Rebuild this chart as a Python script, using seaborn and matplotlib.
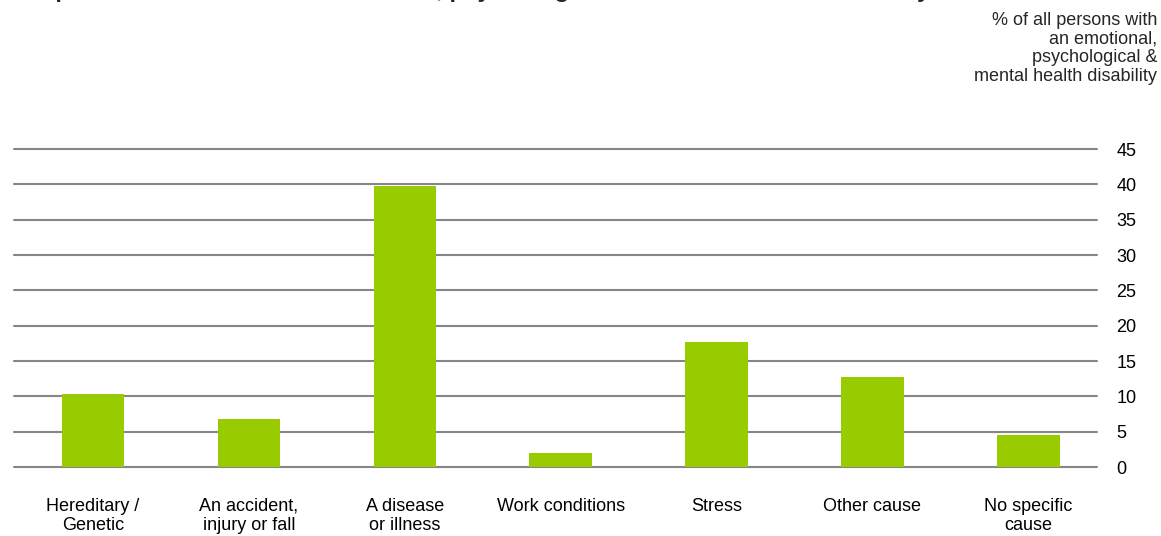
import matplotlib
matplotlib.use("Agg")
import matplotlib.pyplot as plt
import seaborn as sns
import pandas as pd

causes = ["Hereditary /\nGenetic", "An accident,\ninjury or fall", "A disease\nor illness",
          "Work conditions", "Stress", "Other cause", "No specific\ncause"]
shares = [10.4, 6.8, 39.8, 2.0, 17.7, 12.7, 4.5]
y_ticks = [0, 5, 10, 15, 20, 25, 30, 35, 40, 45]

df = pd.DataFrame({"cause": causes, "share": shares})

sns.set_style("white")
plt.rcParams["font.family"] = ["Liberation Sans", "DejaVu Sans"]

fig = plt.figure(figsize=(11.61, 5.36), dpi=100)
ax = fig.add_axes([14 / 1161, 1 - 467 / 536, (1097 - 14) / 1161, (467 - 149) / 536])

sns.barplot(data=df, x="cause", y="share", color="#99CC00", width=0.4,
            saturation=1, linewidth=0, ax=ax, zorder=3)

ax.set_ylim(0, 45)
ax.set_xlim(-0.506, 6.44)
ax.set_yticks(y_ticks)
ax.yaxis.tick_right()
ax.grid(axis="y", color="#868686", linewidth=1.5, zorder=0)
for gl in ax.get_ygridlines():
    gl.set_clip_on(False)
ax.set_axisbelow(True)
for s in ax.spines.values():
    s.set_visible(False)
ax.tick_params(axis="y", length=0, pad=14, labelsize=13, colors="black")
ax.tick_params(axis="x", length=0, pad=22, labelsize=13, colors="black")
for lbl in ax.get_xticklabels():
    lbl.set_linespacing(1.2)
ax.set_xlabel("")
ax.set_ylabel("")

# title is cut off at the top edge in the reference, only descenders show
fig.text(14 / 1161, 1.005,
         "Graph 12: Persons with an emotional, psychological and mental health disability",
         fontsize=17.3, fontweight="bold", ha="left", va="baseline")

fig.text(1157 / 1161, 1 - 12 / 536,
         "% of all persons with\nan emotional,\npsychological &\nmental health disability",
         fontsize=13, ha="right", va="top", multialignment="right", linespacing=1.12)

fig.savefig("out.png", dpi=100)
